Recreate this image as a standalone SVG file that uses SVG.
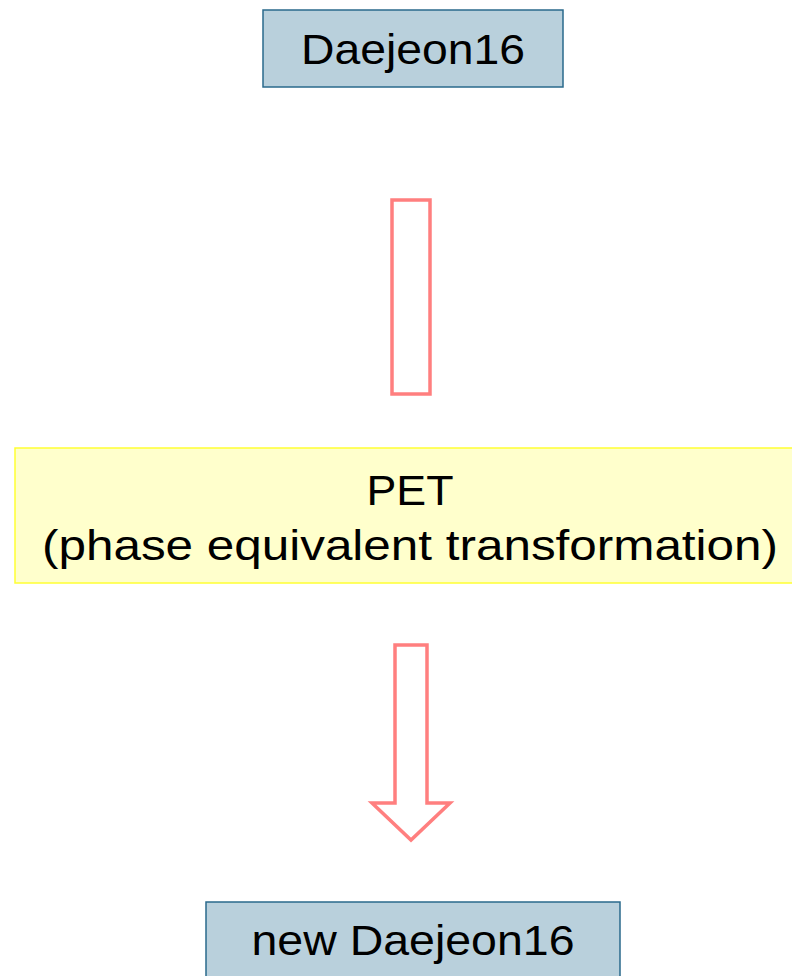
<svg xmlns="http://www.w3.org/2000/svg" width="792" height="976" viewBox="0 0 792 976">
<style>
.box{fill:#b9d0dc;stroke:#2a6a8c;stroke-width:1.5}
.pet{fill:#ffffcc;stroke:#ffff33;stroke-width:1.5}
.arr{fill:#ffffff;stroke:#ff7f7f;stroke-width:3.5}
.t{font-family:"Liberation Sans","DejaVu Sans",sans-serif;font-size:42px;fill:#000;text-anchor:middle}
</style>
<rect width="792" height="976" fill="#ffffff"/>
<g id="n1">
<rect class="box" x="263" y="10" width="300" height="77"/>
<text class="t" x="413" y="64" textLength="224" lengthAdjust="spacingAndGlyphs">Daejeon16</text>
</g>
<g id="connectors">
<rect class="arr" x="392" y="200" width="38" height="194"/>
<path class="arr" d="M395,645 H427 V803 H450 L411,840 L372,803 H395 Z"/>
</g>
<g id="n2">
<rect class="pet" x="15" y="448" width="790" height="135"/>
<text class="t" x="410" y="505" textLength="87" lengthAdjust="spacingAndGlyphs">PET</text>
<text class="t" x="410" y="560" textLength="736" lengthAdjust="spacingAndGlyphs">(phase equivalent transformation)</text>
</g>
<g id="n3">
<rect class="box" x="206" y="902" width="414" height="90"/>
<text class="t" x="413" y="955" textLength="323" lengthAdjust="spacingAndGlyphs">new Daejeon16</text>
</g>
</svg>
